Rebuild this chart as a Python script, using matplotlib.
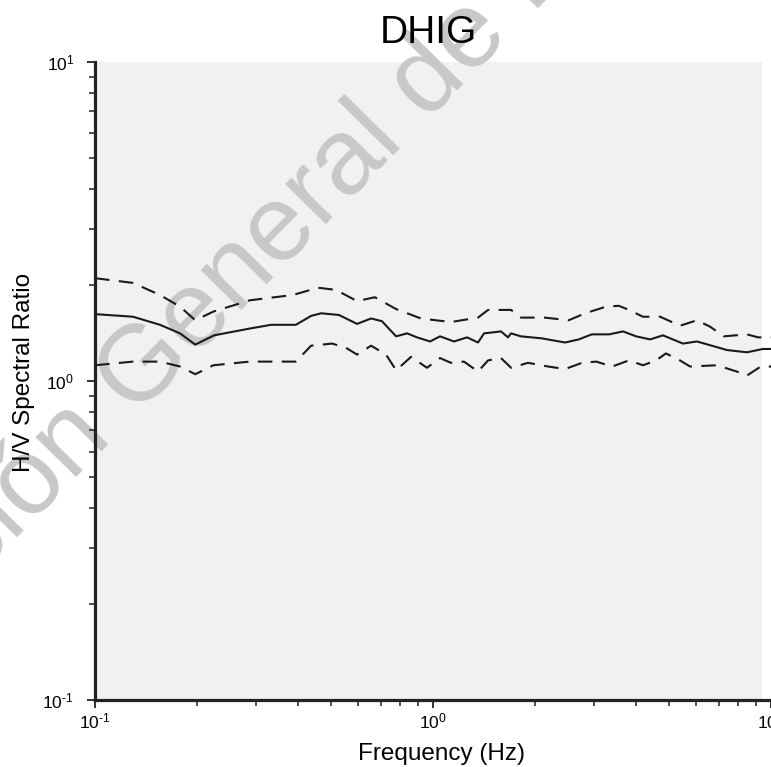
import numpy as np
import matplotlib
matplotlib.use('Agg')
import matplotlib.pyplot as plt
from matplotlib.patches import Rectangle
from matplotlib.ticker import FixedLocator, FixedFormatter

plt.rcParams['font.family'] = ['Liberation Sans', 'DejaVu Sans']
plt.rcParams['mathtext.fontset'] = 'custom'
plt.rcParams['mathtext.rm'] = 'Liberation Sans'
plt.rcParams['mathtext.it'] = 'Liberation Sans:italic'
plt.rcParams['mathtext.bf'] = 'Liberation Sans:bold'

station = "DHIG"
decades = [0.1, 1, 10]
decade_labels = [r'$10^{\text{-1}}$', r'$10^{0}$', r'$10^{1}$']

# mean H/V curve
mean_freq = [0.1, 0.1295, 0.1557, 0.1785, 0.198, 0.225, 0.287, 0.332, 0.393, 0.436,
             0.467, 0.527, 0.596, 0.656, 0.706, 0.778, 0.838, 0.897, 0.98, 1.049,
             1.154, 1.261, 1.359, 1.416, 1.589, 1.667, 1.702, 1.82, 2.10, 2.46,
             2.70, 2.95, 3.32, 3.65, 3.99, 4.39, 4.79, 5.49, 6.04, 7.41,
             8.49, 9.47, 10.0]
mean_hv = [1.62, 1.59, 1.50, 1.41, 1.30, 1.39, 1.46, 1.50, 1.50, 1.60,
           1.63, 1.61, 1.51, 1.57, 1.54, 1.38, 1.41, 1.37, 1.33, 1.38,
           1.33, 1.37, 1.32, 1.41, 1.43, 1.37, 1.41, 1.38, 1.36, 1.32,
           1.35, 1.40, 1.40, 1.43, 1.38, 1.35, 1.39, 1.31, 1.33, 1.25,
           1.23, 1.26, 1.26]

# mean + std
upper_freq = [0.1, 0.1295, 0.1557, 0.1785, 0.198, 0.224, 0.287, 0.385, 0.457, 0.516,
              0.596, 0.673, 0.778, 0.921, 1.13, 1.359, 1.455, 1.702, 1.82, 2.14,
              2.52, 2.82, 3.25, 3.55, 3.80, 4.18, 4.70, 5.38, 6.04, 6.60,
              7.26, 8.49, 9.16, 10.0]
upper_hv = [2.10, 2.03, 1.86, 1.71, 1.55, 1.65, 1.79, 1.86, 1.96, 1.93,
            1.78, 1.83, 1.68, 1.57, 1.53, 1.58, 1.67, 1.67, 1.58, 1.58,
            1.55, 1.63, 1.71, 1.72, 1.67, 1.59, 1.59, 1.49, 1.55, 1.48,
            1.38, 1.40, 1.37, 1.37]

# mean - std
lower_freq = [0.1, 0.1295, 0.1557, 0.1785, 0.198, 0.224, 0.287, 0.393, 0.436, 0.503,
              0.553, 0.596, 0.656, 0.726, 0.778, 0.861, 0.960, 1.049, 1.13, 1.235,
              1.359, 1.455, 1.589, 1.702, 1.91, 2.19, 2.46, 2.76, 3.04, 3.39,
              3.80, 4.18, 4.57, 4.89, 5.38, 5.76, 6.92, 7.93, 8.49, 9.33,
              10.0]
lower_hv = [1.12, 1.15, 1.15, 1.11, 1.05, 1.12, 1.15, 1.15, 1.29, 1.31,
            1.27, 1.21, 1.29, 1.21, 1.08, 1.19, 1.10, 1.18, 1.14, 1.15,
            1.07, 1.16, 1.18, 1.10, 1.14, 1.11, 1.09, 1.14, 1.15, 1.11,
            1.16, 1.12, 1.16, 1.22, 1.16, 1.11, 1.12, 1.07, 1.04, 1.11,
            1.11]

fig = plt.figure(figsize=(7.71, 7.67), dpi=100)
ax = fig.add_axes([0.1232, 0.0874, 0.8768, 0.8318])
ax.set_facecolor('none')

# gray plot background and the watermark sit under the axes
fig.add_artist(Rectangle((0, 0), 0.987, 1, transform=ax.transAxes,
                         facecolor='#f1f1f1', edgecolor='none', zorder=-2))
fig.text(0.1754, 0.4548, "Dirección ", rotation=45.5, rotation_mode='anchor',
         ha='right', va='baseline', fontsize=78, color='#c8c8c8', zorder=-1)
fig.text(0.1754, 0.4548, "General de Bibliotecas", rotation=45.5, rotation_mode='anchor',
         ha='left', va='baseline', fontsize=78, color='#c8c8c8', zorder=-1)

ax.plot(mean_freq, mean_hv, color='#1a1a1a', lw=1.5)
ax.plot(upper_freq, upper_hv, color='#1a1a1a', lw=1.5, linestyle=(0, (7, 4.5)))
ax.plot(lower_freq, lower_hv, color='#1a1a1a', lw=1.5, linestyle=(0, (7, 4.5)))

ax.set_xscale('log')
ax.set_yscale('log')
ax.set_xlim(0.1, 10)
ax.set_ylim(0.1, 10)
for axis in [ax.xaxis, ax.yaxis]:
    axis.set_major_locator(FixedLocator(decades))
    axis.set_major_formatter(FixedFormatter(decade_labels))

for s in ['top', 'right']:
    ax.spines[s].set_visible(False)
for s in ['left', 'bottom']:
    ax.spines[s].set_linewidth(2.3)
    ax.spines[s].set_color('#222222')

ax.tick_params(which='major', direction='out', length=6, width=1.3, labelsize=12.5, color='#222222')
ax.tick_params(which='minor', direction='out', length=4, width=1.1, color='#222222')
ax.tick_params(axis='x', which='major', pad=2)
ax.tick_params(axis='y', which='major', pad=9)

ax.set_title(station, fontsize=28, x=0.4926, pad=14)
ax.set_xlabel("Frequency (Hz)", fontsize=17.5)
ax.set_ylabel("H/V Spectral Ratio", fontsize=17.5)
ax.xaxis.set_label_coords(0.513, -0.067)
ax.yaxis.set_label_coords(-0.088, 0.513)

plt.savefig('out.png', dpi=100)
